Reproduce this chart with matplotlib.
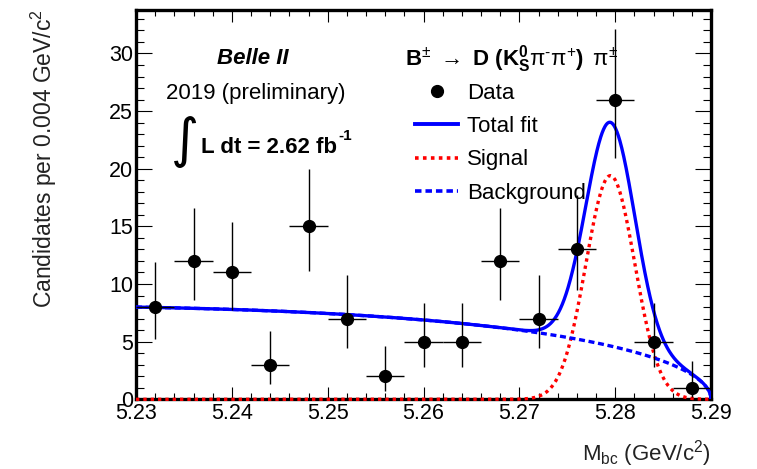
import numpy as np
import matplotlib
matplotlib.use("Agg")
import matplotlib.pyplot as plt
from matplotlib.lines import Line2D
from matplotlib.ticker import MultipleLocator, FormatStrFormatter

plt.rcParams['font.family'] = ['Liberation Sans', 'DejaVu Sans']
plt.rcParams['mathtext.fontset'] = 'custom'
plt.rcParams['mathtext.rm'] = 'Liberation Sans'
plt.rcParams['mathtext.it'] = 'Liberation Sans:italic'
plt.rcParams['mathtext.bf'] = 'Liberation Sans:bold'
plt.rcParams['mathtext.default'] = 'regular'

# Binned M_bc distribution (bin width 0.004 GeV/c^2)
bin_centers = [5.232, 5.236, 5.240, 5.244, 5.248, 5.252, 5.256, 5.260,
               5.264, 5.268, 5.272, 5.276, 5.280, 5.284, 5.288]
counts = [8, 12, 11, 3, 15, 7, 2, 5, 5, 12, 7, 13, 26, 5, 1]
bin_half_width = 0.002
# asymmetric Poisson (68%) errors
err_low = [2.77, 3.42, 3.27, 1.63, 3.83, 2.58, 1.29, 2.16,
           2.16, 3.42, 2.58, 3.56, 5.06, 2.16, 0.83]
err_high = [3.95, 4.56, 4.42, 2.92, 4.96, 3.77, 2.64, 3.38,
            3.38, 4.56, 3.77, 4.70, 6.16, 3.38, 2.30]

# Fit components: ARGUS background + Gaussian signal
x_min, x_max = 5.23, 5.29
argus_endpoint = 5.29
argus_shape = -16.8
bkg_at_low_edge = 8.0
sig_mean = 5.2795
sig_sigma = 0.00255
sig_peak = 19.4
y_max = 33.77


def argus(m):
    t = np.clip(1.0 - (m / argus_endpoint) ** 2, 0.0, None)
    return m * np.sqrt(t) * np.exp(argus_shape * t)


def background(m):
    return bkg_at_low_edge * argus(m) / argus(np.array(x_min))


def signal(m):
    return sig_peak * np.exp(-0.5 * ((m - sig_mean) / sig_sigma) ** 2)


W, H = 757, 469
fig = plt.figure(figsize=(W / 100, H / 100), dpi=100)


def fx(px):
    return px / W


def fy(py):
    return 1 - py / H


ax = fig.add_axes([fx(136), fy(399.3), fx(711) - fx(136), (399.3 - 10) / H])

m = np.linspace(x_min, x_max, 1200)
bkg = background(m)
sig = signal(m)
tot = bkg + sig

BLUE = '#0000ff'
RED = '#ff0000'
DOT = (0, (1, 1.2))
DASH = (0, (1.8, 1.1))

ax.plot(m, sig, color=RED, lw=2.4, ls=DOT, zorder=3, clip_on=False)
ax.plot(m, bkg, color=BLUE, lw=2.4, ls=DASH, zorder=3)
ax.plot(m, tot, color=BLUE, lw=2.4, zorder=4)

ax.errorbar(bin_centers, counts, yerr=[err_low, err_high],
            xerr=bin_half_width, fmt='o', color='black', ms=8.5,
            elinewidth=1.0, capsize=0, zorder=5)

ax.set_xlim(x_min, x_max)
ax.set_ylim(0, y_max)

ax.xaxis.set_major_locator(MultipleLocator(0.01))
ax.xaxis.set_minor_locator(MultipleLocator(0.002))
ax.yaxis.set_major_locator(MultipleLocator(5))
ax.yaxis.set_minor_locator(MultipleLocator(1))
ax.xaxis.set_major_formatter(FormatStrFormatter('%.2f'))

ax.tick_params(which='both', direction='in', top=True, right=True,
               width=0.8, colors='black', labelsize=15.5)
ax.tick_params(axis='x', which='major', length=8.6, pad=3)
ax.tick_params(axis='x', which='minor', length=4.3)
ax.tick_params(axis='y', which='major', length=11.5, pad=2)
ax.tick_params(axis='y', which='minor', length=5.8)
for s in ax.spines.values():
    s.set_linewidth(2.4)
    s.set_zorder(2.5)

# Axis titles
fig.text(fx(44), fy(9), r'Candidates per 0.004 GeV/c$^{2}$', rotation=90,
         ha='center', va='top', fontsize=16.5, color='#222222')
fig.text(fx(711), fy(460), r'M$_{\mathrm{bc}}$ (GeV/c$^{2}$)',
         ha='right', va='baseline', fontsize=16, color='#222222')

# Annotations
fig.text(fx(253), fy(64), 'Belle II', ha='center', va='baseline',
         fontsize=16, fontweight='bold', style='italic')
fig.text(fx(256), fy(99), '2019 (preliminary)', ha='center', va='baseline',
         fontsize=16)
fig.text(fx(185.5), fy(141.5), '\u222b', ha='center', va='center',
         fontsize=39, family='DejaVu Sans')
lumi = fig.text(fx(201), fy(153), 'L dt = 2.62 fb', ha='left',
                va='baseline', fontsize=16, fontweight='bold')
fig.canvas.draw()
lumi_box = lumi.get_window_extent()
fig.text((lumi_box.x1 + 1) / W, fy(140), '-1', ha='left', va='baseline',
         fontsize=11, fontweight='bold')
fig.text(fx(405), fy(65),
         r'$\mathbf{B}^{\pm}\ \rightarrow\ \mathbf{D\ (K}^{\mathbf{0}}_{\mathbf{S}}'
         r'\mathrm{\pi}^{\text{-}}\mathrm{\pi}^{+}\mathbf{)}\ \,\mathrm{\pi}^{\pm}$',
         ha='left', va='baseline', fontsize=16)

# Legend
handles = [
    Line2D([], [], marker='o', ls='none', color='black', ms=8.5),
    Line2D([], [], color=BLUE, lw=2.8),
    Line2D([], [], color=RED, lw=2.6, ls=DOT),
    Line2D([], [], color=BLUE, lw=2.6, ls=DASH),
]
labels = ['Data', 'Total fit', 'Signal', 'Background']
leg = fig.legend(handles, labels, loc='upper left',
                 bbox_to_anchor=(fx(415), fy(83)), frameon=False,
                 fontsize=16, handlelength=1.95, handletextpad=0.4,
                 labelspacing=0.55, borderpad=0, borderaxespad=0)

fig.savefig('out.png', dpi=100)
